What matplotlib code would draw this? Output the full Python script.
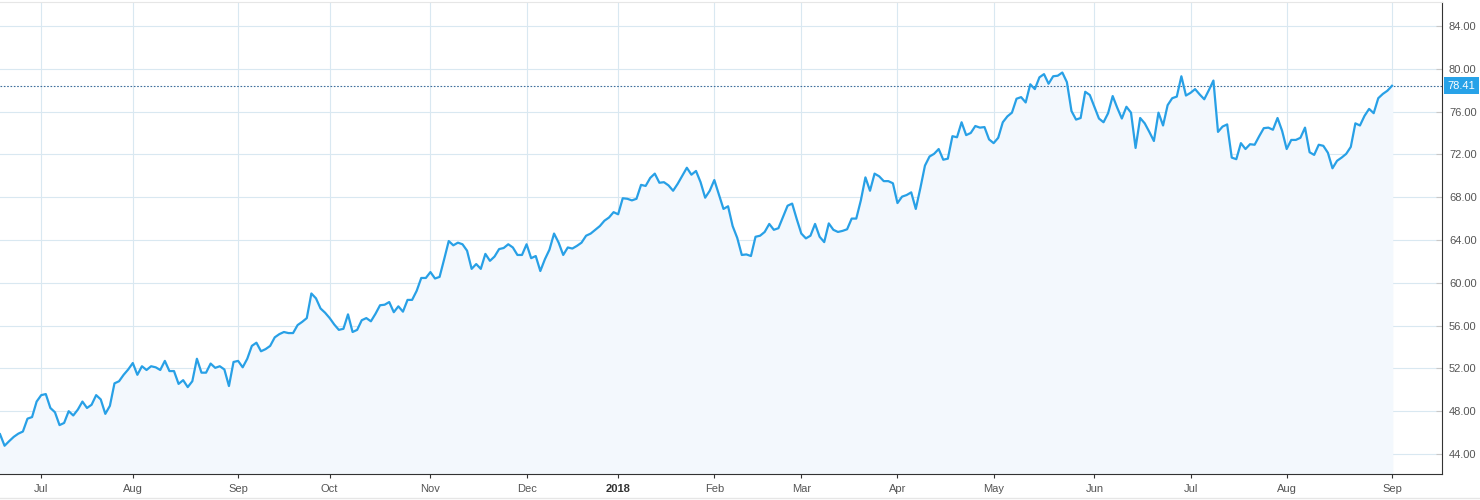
import numpy as np
import pandas as pd
import matplotlib
matplotlib.use("Agg")
import matplotlib.pyplot as plt
from matplotlib.lines import Line2D

plt.rcParams['font.family'] = ['Liberation Sans', 'DejaVu Sans']

# trading days shown on the chart
start_date = "2017-06-20"
end_date = "2018-09-04"
holidays = ["2017-07-04", "2017-09-04", "2017-11-23", "2017-12-25",
            "2018-01-01", "2018-01-15", "2018-02-19", "2018-03-30",
            "2018-05-28", "2018-07-04", "2018-09-03"]

# daily closes
prices = [
    45.85, 44.77, 45.2, 45.6, 45.9, 46.1, 47.3, 47.45, 48.9, 49.5,
    49.6, 48.3, 47.9, 46.7, 46.9, 48.0, 47.6, 48.15, 48.9, 48.3,
    48.6, 49.5, 49.1, 47.75, 48.5, 50.6, 50.8, 51.4, 51.9, 52.5,
    51.4, 52.2, 51.85, 52.2, 52.1, 51.85, 52.7, 51.75, 51.75, 50.55,
    50.9, 50.25, 50.8, 52.9, 51.6, 51.6, 52.45, 52.05, 52.2, 51.9,
    50.35, 52.6, 52.7, 52.1, 52.9, 54.1, 54.4, 53.6, 53.8, 54.1,
    54.9, 55.2, 55.4, 55.3, 55.3, 56.05, 56.35, 56.7, 59.0, 58.55,
    57.6, 57.2, 56.7, 56.1, 55.6, 55.7, 57.05, 55.4, 55.6,
    56.5, 56.7, 56.4, 57.1, 57.9, 57.95, 58.2, 57.25, 57.8, 57.3,
    58.4, 58.4, 59.25, 60.45, 60.45, 61.0, 60.4, 60.55, 62.2, 63.9,
    63.5, 63.75, 63.6, 63.0, 61.3, 61.75, 61.3, 62.7, 62.05, 62.45,
    63.15, 63.25, 63.6, 63.3, 62.6, 62.6, 63.6,
    62.3, 62.5, 61.1, 62.2, 63.1, 64.6, 63.75, 62.6, 63.3, 63.2,
    63.45, 63.75, 64.4, 64.6, 64.95, 65.3, 65.8, 66.1, 66.6, 66.4,
    67.9, 67.85, 67.7, 67.85, 69.15, 69.05, 69.8, 70.2, 69.35, 69.4,
    69.1, 68.6, 69.25, 70.0, 70.75, 70.1, 70.45, 69.4,
    67.95, 68.6, 69.6, 68.25, 66.9, 67.15, 65.3, 64.2, 62.6, 62.65,
    62.5, 64.3, 64.4, 64.75, 65.5, 64.95, 65.1, 66.15, 67.2, 67.4,
    65.95, 64.6, 64.15, 64.4, 65.5, 64.3, 63.8, 65.55, 64.95, 64.75,
    64.85, 65.0, 66.0, 66.0, 67.7, 69.85, 68.6,
    70.2, 69.95, 69.5, 69.5, 69.3, 67.45, 68.05, 68.2, 68.45, 66.9,
    68.85, 70.95, 71.8, 72.05, 72.5, 71.5, 71.6, 73.7, 73.6, 75.0,
    73.8, 74.0, 74.65, 74.5, 74.55, 73.4, 73.05, 73.55, 75.0, 75.55,
    75.9, 77.2, 77.35, 76.85, 78.55, 78.1, 79.2, 79.5,
    78.6, 79.3, 79.35, 79.65, 78.75, 76.05, 75.25, 75.4, 77.85, 77.55,
    76.45, 75.35, 75.0, 75.85, 77.45, 76.35, 75.35, 76.45, 75.9, 72.6,
    75.4, 74.9, 74.1, 73.25, 75.9, 74.7, 76.6, 77.25, 77.4, 79.3,
    77.5, 77.75, 78.1, 77.6, 77.15, 78.0, 78.9, 74.1,
    74.6, 74.8, 71.7, 71.55, 73.05, 72.5, 72.95, 72.9, 73.7, 74.45,
    74.5, 74.3, 75.4, 74.2, 72.5, 73.35, 73.35, 73.55, 74.5, 72.2,
    71.95, 72.9, 72.8, 72.15, 70.7, 71.4, 71.7, 72.05, 72.7, 74.9,
    74.7, 75.6, 76.25, 75.85, 77.25, 77.65, 77.95, 78.41,
]
last_price = 78.41
y_ticks = np.arange(44, 85, 4)

dates = pd.bdate_range(start_date, end_date)
dates = dates[~dates.isin(pd.to_datetime(holidays))][:len(prices)]
x = np.arange(len(prices))

# first trading day of every month (skip the partial first month)
months = dates.to_period("M")
tick_idx = [i for i in range(1, len(dates)) if months[i] != months[i - 1]]
tick_lab = [str(dates[i].year) if dates[i].month == 1 else dates[i].strftime("%b")
            for i in tick_idx]

fig = plt.figure(figsize=(14.8, 5), dpi=100)
ax = fig.add_axes([0, 26 / 500, 1442 / 1480, 472 / 500])

y_lo, y_hi = 42.13, 86.24
ax.fill_between(x, prices, y_lo, color="#f3f8fd", zorder=1)
ax.plot(x, prices, color="#28a0e6", lw=1.6, zorder=3)
ax.axhline(last_price, color="#3f6f9c", ls=(0, (1.5, 1.5)), lw=0.8, zorder=2)

ax.set_xlim(0, (len(prices) - 1) * 1442 / 1392)
ax.set_ylim(y_lo, y_hi)

ax.yaxis.tick_right()
ax.set_yticks(y_ticks)
ax.set_yticklabels([f"{v:.2f}" for v in y_ticks])
ax.tick_params(axis="y", direction="in", length=4, color="#c8c8c8",
               labelsize=8, labelcolor="#555555", pad=5)
ax.set_xticks(tick_idx)
ax.set_xticklabels(tick_lab)
ax.tick_params(axis="x", direction="out", length=3, color="#333333",
               labelsize=8, labelcolor="#555555", pad=4)
for lab in ax.get_xticklabels():
    if lab.get_text().isdigit():
        lab.set_fontweight("bold")
        lab.set_color("#333333")

ax.grid(True, color="#d9e8f1", lw=0.8, zorder=0)
ax.set_axisbelow(True)

ax.spines["left"].set_visible(False)
ax.spines["top"].set_color("#e6e6e6")
ax.spines["right"].set_color("#333333")
ax.spines["bottom"].set_color("#333333")

ax.annotate(f"{last_price:.2f}", xy=(1, last_price),
            xycoords=("axes fraction", "data"),
            xytext=(4, 0), textcoords="offset points",
            ha="left", va="center", fontsize=8, color="white",
            bbox=dict(boxstyle="square,pad=0.3", fc="#27a2e8", ec="none"),
            annotation_clip=False)

fig.add_artist(Line2D([0, 1], [2 / 500, 2 / 500], transform=fig.transFigure,
                      color="#e6e6e6", lw=1))

fig.savefig("out.png", dpi=100)
